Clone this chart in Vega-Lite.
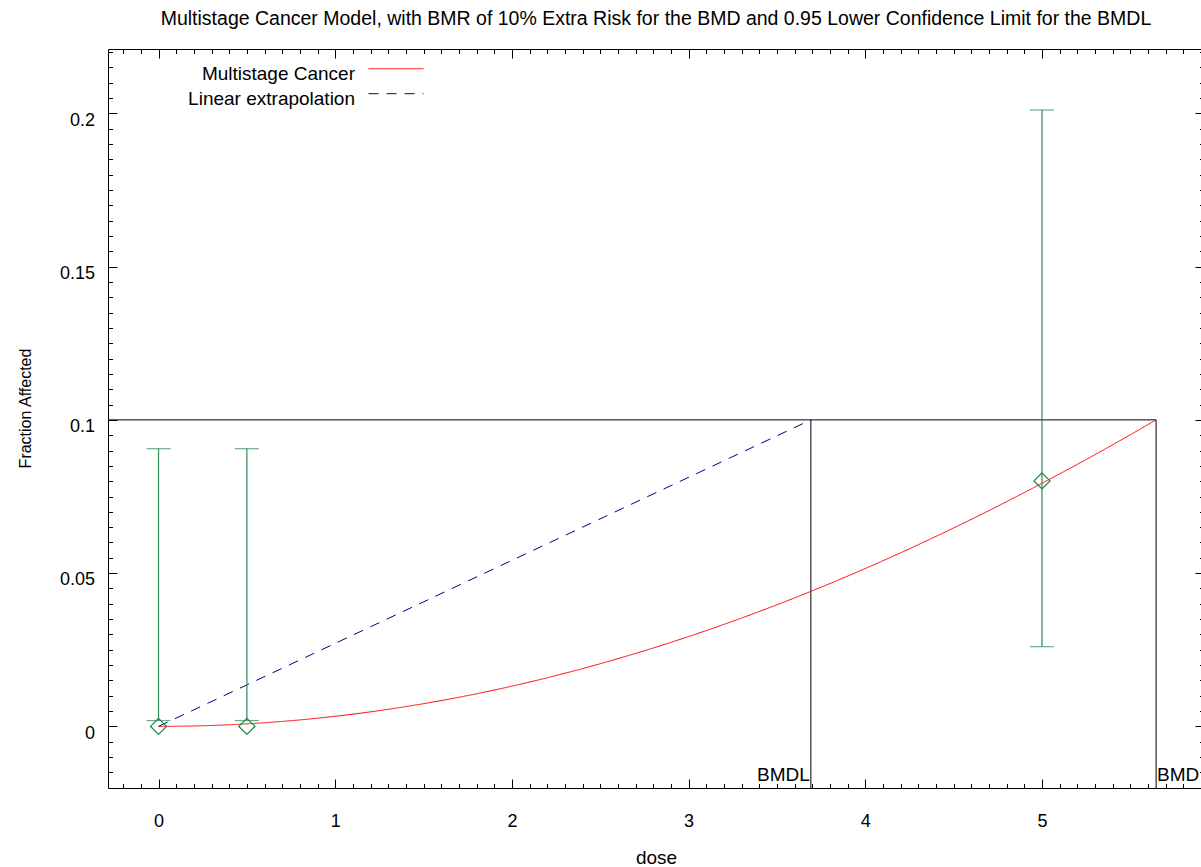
{
  "$schema": "https://vega.github.io/schema/vega-lite/v6.json",
  "width": 1096,
  "height": 739,
  "autosize": {"type": "none"},
  "padding": {"left": 108, "top": 49, "right": 0, "bottom": 79},
  "background": "white",
  "title": {
    "text": "Multistage Cancer Model, with BMR of 10% Extra Risk for the BMD and 0.95 Lower Confidence Limit for the BMDL",
    "font": "Liberation Sans",
    "fontSize": 19.5,
    "fontWeight": "normal",
    "color": "black",
    "anchor": "middle",
    "baseline": "alphabetic",
    "offset": 4.5
  },
  "config": {
    "view": {"stroke": "black", "strokeWidth": 1},
    "font": "Liberation Sans",
    "style": {"guide-label": {"lineHeight": 10}},
    "axis": {
      "grid": false,
      "domain": false,
      "tickColor": "black",
      "tickWidth": 1,
      "labelColor": "black",
      "titleColor": "black",
      "labelFont": "Liberation Sans",
      "titleFont": "Liberation Sans",
      "titleFontWeight": "normal",
      "labelFlush": false,
      "labelOverlap": false
    }
  },
  "datasets": {
    "obs": [
      {"dose": 0, "frac": 0, "lo": 0.0019, "hi": 0.0906},
      {"dose": 0.5, "frac": 0, "lo": 0.0019, "hi": 0.0906},
      {"dose": 5, "frac": 0.0801, "lo": 0.026, "hi": 0.2011}
    ],
    "bmr": [
      {"dose": 3.692, "label": "BMDL", "bmr": 0.1},
      {"dose": 5.646, "label": "BMD", "bmr": 0.1}
    ],
    "lines": [
      {"series": "Multistage Cancer", "dose": 0, "p": 0},
      {"series": "Multistage Cancer", "dose": 0.25, "p": 0.000207},
      {"series": "Multistage Cancer", "dose": 0.5, "p": 0.000826},
      {"series": "Multistage Cancer", "dose": 0.75, "p": 0.001858},
      {"series": "Multistage Cancer", "dose": 1, "p": 0.0033},
      {"series": "Multistage Cancer", "dose": 1.25, "p": 0.005151},
      {"series": "Multistage Cancer", "dose": 1.5, "p": 0.007409},
      {"series": "Multistage Cancer", "dose": 1.75, "p": 0.010071},
      {"series": "Multistage Cancer", "dose": 2, "p": 0.013134},
      {"series": "Multistage Cancer", "dose": 2.25, "p": 0.016594},
      {"series": "Multistage Cancer", "dose": 2.5, "p": 0.020446},
      {"series": "Multistage Cancer", "dose": 2.75, "p": 0.024686},
      {"series": "Multistage Cancer", "dose": 3, "p": 0.029309},
      {"series": "Multistage Cancer", "dose": 3.25, "p": 0.034309},
      {"series": "Multistage Cancer", "dose": 3.5, "p": 0.03968},
      {"series": "Multistage Cancer", "dose": 3.75, "p": 0.045415},
      {"series": "Multistage Cancer", "dose": 4, "p": 0.051509},
      {"series": "Multistage Cancer", "dose": 4.25, "p": 0.057954},
      {"series": "Multistage Cancer", "dose": 4.5, "p": 0.06474},
      {"series": "Multistage Cancer", "dose": 4.75, "p": 0.071861},
      {"series": "Multistage Cancer", "dose": 5, "p": 0.079309},
      {"series": "Multistage Cancer", "dose": 5.25, "p": 0.087069},
      {"series": "Multistage Cancer", "dose": 5.5, "p": 0.095146},
      {"series": "Multistage Cancer", "dose": 5.646, "p": 0.1},
      {"series": "Linear extrapolation", "dose": 0, "p": 0},
      {"series": "Linear extrapolation", "dose": 3.692, "p": 0.1}
    ]
  },
  "layer": [
    {
      "data": {"name": "bmr"},
      "transform": [{"filter": "datum.label == 'BMD'"}],
      "mark": {"type": "rule", "color": "black", "strokeWidth": 1},
      "encoding": {
        "x": {"field": "dose", "type": "quantitative", "scale": {"domain": [-0.286, 5.917], "nice": false, "zero": false}, "axis": null},
        "x2": {"datum": -0.286},
        "y": {"field": "bmr", "type": "quantitative", "scale": {"domain": [-0.0201, 0.221], "nice": false, "zero": false}, "axis": null}
      }
    },
    {
      "data": {"name": "bmr"},
      "mark": {"type": "rule", "color": "black", "strokeWidth": 1},
      "encoding": {
        "x": {"field": "dose", "type": "quantitative", "axis": null},
        "y": {"field": "bmr", "type": "quantitative", "axis": null},
        "y2": {"datum": -0.0201}
      }
    },
    {
      "data": {"name": "lines"},
      "mark": {"type": "line", "strokeWidth": 1, "interpolate": "monotone"},
      "encoding": {
        "x": {"field": "dose", "type": "quantitative", "axis": null},
        "y": {"field": "p", "type": "quantitative", "axis": null},
        "color": {
          "field": "series", "type": "nominal",
          "scale": {"domain": ["Multistage Cancer", "Linear extrapolation"], "range": ["#ff0000", "#000080"]},
          "legend": {"orient": "none", "legendX": 278.5, "legendY": 10.2, "title": null, "symbolType": "M-5.5,0H5.5", "symbolSize": 100, "symbolStrokeWidth": 1, "labelAlign": "right", "labelOffset": -50.5, "labelFontSize": 19, "labelFont": "Liberation Sans", "labelColor": "black", "labelLimit": 400, "labelBaseline": "line-top", "rowPadding": -1, "padding": 0, "offset": 0}
        },
        "strokeDash": {
          "field": "series", "type": "nominal",
          "scale": {"domain": ["Multistage Cancer", "Linear extrapolation"], "range": [[1, 0], [10, 8]]},
          "legend": {"orient": "none", "legendX": 278.5, "legendY": 10.2, "title": null, "symbolType": "M-5.5,0H5.5", "symbolSize": 100, "symbolStrokeWidth": 1, "labelAlign": "right", "labelOffset": -50.5, "labelFontSize": 19, "labelFont": "Liberation Sans", "labelColor": "black", "labelLimit": 400, "labelBaseline": "line-top", "rowPadding": -1, "padding": 0, "offset": 0}
        }
      }
    },
    {
      "data": {"name": "obs"},
      "mark": {"type": "rule", "color": "#2e8b57", "strokeWidth": 1.2},
      "encoding": {
        "x": {"field": "dose", "type": "quantitative",
          "axis": {"orient": "bottom", "values": [0, 1, 2, 3, 4, 5], "format": "d", "tickSize": -9, "labelPadding": 47.7, "labelBaseline": "alphabetic", "labelFontSize": 18, "title": "dose", "titleFontSize": 19, "titleX": 548, "titleY": 75, "titleBaseline": "alphabetic", "titleAlign": "center"}},
        "y": {"field": "lo", "type": "quantitative",
          "axis": {"orient": "left", "values": [0, 0.05, 0.1, 0.15, 0.2], "format": ".2~f", "tickSize": -9, "labelPadding": 22.5, "labelBaseline": "alphabetic", "labelAlign": "right", "labelOffset": 11.7, "labelFontSize": 18, "title": "Fraction Affected", "titleFontSize": 16, "titleX": -78, "titleY": 359, "titleAngle": 270, "titleAlign": "center", "titleBaseline": "alphabetic"}},
        "y2": {"field": "hi"}
      }
    },
    {
      "data": {"name": "obs"},
      "mark": {"type": "tick", "orient": "horizontal", "size": 24, "thickness": 1.2, "color": "#2e8b57"},
      "encoding": {
        "x": {"field": "dose", "type": "quantitative",
          "axis": {"orient": "bottom", "values": [-0.2, -0.1, 0, 0.1, 0.2, 0.3, 0.4, 0.5, 0.6, 0.7, 0.8, 0.9, 1, 1.1, 1.2, 1.3, 1.4, 1.5, 1.6, 1.7, 1.8, 1.9, 2, 2.1, 2.2, 2.3, 2.4, 2.5, 2.6, 2.7, 2.8, 2.9, 3, 3.1, 3.2, 3.3, 3.4, 3.5, 3.6, 3.7, 3.8, 3.9, 4, 4.1, 4.2, 4.3, 4.4, 4.5, 4.6, 4.7, 4.8, 4.9, 5, 5.1, 5.2, 5.3, 5.4, 5.5, 5.6, 5.7, 5.8, 5.9], "tickSize": -4.5, "labels": false, "title": null}},
        "y": {"field": "lo", "type": "quantitative",
          "axis": {"orient": "left", "values": [-0.015, -0.01, -0.005, 0, 0.005, 0.01, 0.015, 0.02, 0.025, 0.03, 0.035, 0.04, 0.045, 0.05, 0.055, 0.06, 0.065, 0.07, 0.075, 0.08, 0.085, 0.09, 0.095, 0.1, 0.105, 0.11, 0.115, 0.12, 0.125, 0.13, 0.135, 0.14, 0.145, 0.15, 0.155, 0.16, 0.165, 0.17, 0.175, 0.18, 0.185, 0.19, 0.195, 0.2, 0.205, 0.21, 0.215, 0.22], "tickSize": -4.5, "labels": false, "title": null}}
      }
    },
    {
      "data": {"name": "obs"},
      "mark": {"type": "tick", "orient": "horizontal", "size": 24, "thickness": 1.2, "color": "#2e8b57"},
      "encoding": {
        "x": {"field": "dose", "type": "quantitative",
          "axis": {"orient": "top", "values": [0, 1, 2, 3, 4, 5], "tickSize": -9, "labels": false, "title": null}},
        "y": {"field": "hi", "type": "quantitative",
          "axis": {"orient": "right", "values": [0, 0.05, 0.1, 0.15, 0.2], "tickSize": -9, "labels": false, "title": null}}
      }
    },
    {
      "data": {"name": "obs"},
      "mark": {"type": "point", "shape": "diamond", "size": 256, "filled": false, "color": "#1e8a4a", "strokeWidth": 1.3, "opacity": 1},
      "encoding": {
        "x": {"field": "dose", "type": "quantitative",
          "axis": {"orient": "top", "values": [-0.2, -0.1, 0, 0.1, 0.2, 0.3, 0.4, 0.5, 0.6, 0.7, 0.8, 0.9, 1, 1.1, 1.2, 1.3, 1.4, 1.5, 1.6, 1.7, 1.8, 1.9, 2, 2.1, 2.2, 2.3, 2.4, 2.5, 2.6, 2.7, 2.8, 2.9, 3, 3.1, 3.2, 3.3, 3.4, 3.5, 3.6, 3.7, 3.8, 3.9, 4, 4.1, 4.2, 4.3, 4.4, 4.5, 4.6, 4.7, 4.8, 4.9, 5, 5.1, 5.2, 5.3, 5.4, 5.5, 5.6, 5.7, 5.8, 5.9], "tickSize": -4.5, "labels": false, "title": null}},
        "y": {"field": "frac", "type": "quantitative",
          "axis": {"orient": "right", "values": [-0.015, -0.01, -0.005, 0, 0.005, 0.01, 0.015, 0.02, 0.025, 0.03, 0.035, 0.04, 0.045, 0.05, 0.055, 0.06, 0.065, 0.07, 0.075, 0.08, 0.085, 0.09, 0.095, 0.1, 0.105, 0.11, 0.115, 0.12, 0.125, 0.13, 0.135, 0.14, 0.145, 0.15, 0.155, 0.16, 0.165, 0.17, 0.175, 0.18, 0.185, 0.19, 0.195, 0.2, 0.205, 0.21, 0.215, 0.22], "tickSize": -4.5, "labels": false, "title": null}}
      }
    },
    {
      "data": {"name": "bmr"},
      "transform": [{"filter": "datum.label == 'BMDL'"}],
      "mark": {"type": "text", "align": "right", "baseline": "alphabetic", "dx": -1, "dy": -6.6, "fontSize": 19, "font": "Liberation Sans", "color": "black"},
      "encoding": {
        "x": {"field": "dose", "type": "quantitative", "axis": null},
        "y": {"datum": -0.0201, "type": "quantitative", "axis": null},
        "text": {"field": "label"}
      }
    },
    {
      "data": {"name": "bmr"},
      "transform": [{"filter": "datum.label == 'BMD'"}],
      "mark": {"type": "text", "align": "left", "baseline": "alphabetic", "dx": 1, "dy": -6.6, "fontSize": 19, "font": "Liberation Sans", "color": "black"},
      "encoding": {
        "x": {"field": "dose", "type": "quantitative", "axis": null},
        "y": {"datum": -0.0201, "type": "quantitative", "axis": null},
        "text": {"field": "label"}
      }
    }
  ],
  "resolve": {"axis": {"x": "independent", "y": "independent"}}
}
